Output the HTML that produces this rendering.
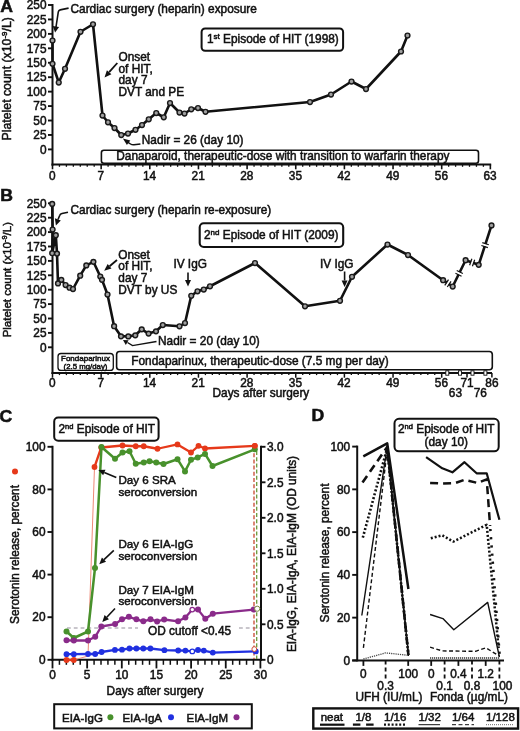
<!DOCTYPE html>
<html lang="en"><head><meta charset="utf-8"><title>HIT episodes figure</title>
<style>html,body{margin:0;padding:0;background:#fff;}svg{display:block;will-change:transform;}</style></head>
<body>
<svg width="520" height="731" viewBox="0 0 520 731" font-family="'Liberation Sans', sans-serif" fill="#111"><style>text{stroke:#111;stroke-width:0.5px;}</style>
<rect width="520" height="731" fill="#fff"/>
<line x1="52.50" y1="4.00" x2="52.50" y2="165.60" stroke="#111" stroke-width="2"/>
<line x1="48.00" y1="5.00" x2="52.50" y2="5.00" stroke="#111" stroke-width="1.9"/>
<text x="46.50" y="9.20" font-size="11.85" text-anchor="end">250</text>
<line x1="48.00" y1="19.44" x2="52.50" y2="19.44" stroke="#111" stroke-width="1.9"/>
<text x="46.50" y="23.64" font-size="11.85" text-anchor="end">225</text>
<line x1="48.00" y1="33.88" x2="52.50" y2="33.88" stroke="#111" stroke-width="1.9"/>
<text x="46.50" y="38.08" font-size="11.85" text-anchor="end">200</text>
<line x1="48.00" y1="48.32" x2="52.50" y2="48.32" stroke="#111" stroke-width="1.9"/>
<text x="46.50" y="52.52" font-size="11.85" text-anchor="end">175</text>
<line x1="48.00" y1="62.76" x2="52.50" y2="62.76" stroke="#111" stroke-width="1.9"/>
<text x="46.50" y="66.96" font-size="11.85" text-anchor="end">150</text>
<line x1="48.00" y1="77.20" x2="52.50" y2="77.20" stroke="#111" stroke-width="1.9"/>
<text x="46.50" y="81.40" font-size="11.85" text-anchor="end">125</text>
<line x1="48.00" y1="91.64" x2="52.50" y2="91.64" stroke="#111" stroke-width="1.9"/>
<text x="46.50" y="95.84" font-size="11.85" text-anchor="end">100</text>
<line x1="48.00" y1="106.08" x2="52.50" y2="106.08" stroke="#111" stroke-width="1.9"/>
<text x="46.50" y="110.28" font-size="11.85" text-anchor="end">75</text>
<line x1="48.00" y1="120.52" x2="52.50" y2="120.52" stroke="#111" stroke-width="1.9"/>
<text x="46.50" y="124.72" font-size="11.85" text-anchor="end">50</text>
<line x1="48.00" y1="134.96" x2="52.50" y2="134.96" stroke="#111" stroke-width="1.9"/>
<text x="46.50" y="139.16" font-size="11.85" text-anchor="end">25</text>
<line x1="48.00" y1="149.40" x2="52.50" y2="149.40" stroke="#111" stroke-width="1.9"/>
<text x="46.50" y="153.60" font-size="11.85" text-anchor="end">0</text>
<line x1="51.50" y1="164.60" x2="491.20" y2="164.60" stroke="#111" stroke-width="2"/>
<line x1="52.50" y1="164.60" x2="52.50" y2="169.30" stroke="#111" stroke-width="1.6"/>
<line x1="59.45" y1="164.60" x2="59.45" y2="166.80" stroke="#111" stroke-width="1.3"/>
<line x1="66.40" y1="164.60" x2="66.40" y2="166.80" stroke="#111" stroke-width="1.3"/>
<line x1="73.35" y1="164.60" x2="73.35" y2="166.80" stroke="#111" stroke-width="1.3"/>
<line x1="80.30" y1="164.60" x2="80.30" y2="166.80" stroke="#111" stroke-width="1.3"/>
<line x1="87.25" y1="164.60" x2="87.25" y2="166.80" stroke="#111" stroke-width="1.3"/>
<line x1="94.20" y1="164.60" x2="94.20" y2="166.80" stroke="#111" stroke-width="1.3"/>
<line x1="101.15" y1="164.60" x2="101.15" y2="169.30" stroke="#111" stroke-width="1.6"/>
<line x1="108.10" y1="164.60" x2="108.10" y2="166.80" stroke="#111" stroke-width="1.3"/>
<line x1="115.05" y1="164.60" x2="115.05" y2="166.80" stroke="#111" stroke-width="1.3"/>
<line x1="122.00" y1="164.60" x2="122.00" y2="166.80" stroke="#111" stroke-width="1.3"/>
<line x1="128.95" y1="164.60" x2="128.95" y2="166.80" stroke="#111" stroke-width="1.3"/>
<line x1="135.90" y1="164.60" x2="135.90" y2="166.80" stroke="#111" stroke-width="1.3"/>
<line x1="142.85" y1="164.60" x2="142.85" y2="166.80" stroke="#111" stroke-width="1.3"/>
<line x1="149.80" y1="164.60" x2="149.80" y2="169.30" stroke="#111" stroke-width="1.6"/>
<line x1="156.75" y1="164.60" x2="156.75" y2="166.80" stroke="#111" stroke-width="1.3"/>
<line x1="163.70" y1="164.60" x2="163.70" y2="166.80" stroke="#111" stroke-width="1.3"/>
<line x1="170.65" y1="164.60" x2="170.65" y2="166.80" stroke="#111" stroke-width="1.3"/>
<line x1="177.60" y1="164.60" x2="177.60" y2="166.80" stroke="#111" stroke-width="1.3"/>
<line x1="184.55" y1="164.60" x2="184.55" y2="166.80" stroke="#111" stroke-width="1.3"/>
<line x1="191.50" y1="164.60" x2="191.50" y2="166.80" stroke="#111" stroke-width="1.3"/>
<line x1="198.45" y1="164.60" x2="198.45" y2="169.30" stroke="#111" stroke-width="1.6"/>
<line x1="205.40" y1="164.60" x2="205.40" y2="166.80" stroke="#111" stroke-width="1.3"/>
<line x1="212.35" y1="164.60" x2="212.35" y2="166.80" stroke="#111" stroke-width="1.3"/>
<line x1="219.30" y1="164.60" x2="219.30" y2="166.80" stroke="#111" stroke-width="1.3"/>
<line x1="226.25" y1="164.60" x2="226.25" y2="166.80" stroke="#111" stroke-width="1.3"/>
<line x1="233.20" y1="164.60" x2="233.20" y2="166.80" stroke="#111" stroke-width="1.3"/>
<line x1="240.15" y1="164.60" x2="240.15" y2="166.80" stroke="#111" stroke-width="1.3"/>
<line x1="247.10" y1="164.60" x2="247.10" y2="169.30" stroke="#111" stroke-width="1.6"/>
<line x1="254.05" y1="164.60" x2="254.05" y2="166.80" stroke="#111" stroke-width="1.3"/>
<line x1="261.00" y1="164.60" x2="261.00" y2="166.80" stroke="#111" stroke-width="1.3"/>
<line x1="267.95" y1="164.60" x2="267.95" y2="166.80" stroke="#111" stroke-width="1.3"/>
<line x1="274.90" y1="164.60" x2="274.90" y2="166.80" stroke="#111" stroke-width="1.3"/>
<line x1="281.85" y1="164.60" x2="281.85" y2="166.80" stroke="#111" stroke-width="1.3"/>
<line x1="288.80" y1="164.60" x2="288.80" y2="166.80" stroke="#111" stroke-width="1.3"/>
<line x1="295.75" y1="164.60" x2="295.75" y2="169.30" stroke="#111" stroke-width="1.6"/>
<line x1="302.70" y1="164.60" x2="302.70" y2="166.80" stroke="#111" stroke-width="1.3"/>
<line x1="309.65" y1="164.60" x2="309.65" y2="166.80" stroke="#111" stroke-width="1.3"/>
<line x1="316.60" y1="164.60" x2="316.60" y2="166.80" stroke="#111" stroke-width="1.3"/>
<line x1="323.55" y1="164.60" x2="323.55" y2="166.80" stroke="#111" stroke-width="1.3"/>
<line x1="330.50" y1="164.60" x2="330.50" y2="166.80" stroke="#111" stroke-width="1.3"/>
<line x1="337.45" y1="164.60" x2="337.45" y2="166.80" stroke="#111" stroke-width="1.3"/>
<line x1="344.40" y1="164.60" x2="344.40" y2="169.30" stroke="#111" stroke-width="1.6"/>
<line x1="351.35" y1="164.60" x2="351.35" y2="166.80" stroke="#111" stroke-width="1.3"/>
<line x1="358.30" y1="164.60" x2="358.30" y2="166.80" stroke="#111" stroke-width="1.3"/>
<line x1="365.25" y1="164.60" x2="365.25" y2="166.80" stroke="#111" stroke-width="1.3"/>
<line x1="372.20" y1="164.60" x2="372.20" y2="166.80" stroke="#111" stroke-width="1.3"/>
<line x1="379.15" y1="164.60" x2="379.15" y2="166.80" stroke="#111" stroke-width="1.3"/>
<line x1="386.10" y1="164.60" x2="386.10" y2="166.80" stroke="#111" stroke-width="1.3"/>
<line x1="393.05" y1="164.60" x2="393.05" y2="169.30" stroke="#111" stroke-width="1.6"/>
<line x1="400.00" y1="164.60" x2="400.00" y2="166.80" stroke="#111" stroke-width="1.3"/>
<line x1="406.95" y1="164.60" x2="406.95" y2="166.80" stroke="#111" stroke-width="1.3"/>
<line x1="413.90" y1="164.60" x2="413.90" y2="166.80" stroke="#111" stroke-width="1.3"/>
<line x1="420.85" y1="164.60" x2="420.85" y2="166.80" stroke="#111" stroke-width="1.3"/>
<line x1="427.80" y1="164.60" x2="427.80" y2="166.80" stroke="#111" stroke-width="1.3"/>
<line x1="434.75" y1="164.60" x2="434.75" y2="166.80" stroke="#111" stroke-width="1.3"/>
<line x1="441.70" y1="164.60" x2="441.70" y2="169.30" stroke="#111" stroke-width="1.6"/>
<line x1="448.65" y1="164.60" x2="448.65" y2="166.80" stroke="#111" stroke-width="1.3"/>
<line x1="455.60" y1="164.60" x2="455.60" y2="166.80" stroke="#111" stroke-width="1.3"/>
<line x1="462.55" y1="164.60" x2="462.55" y2="166.80" stroke="#111" stroke-width="1.3"/>
<line x1="469.50" y1="164.60" x2="469.50" y2="166.80" stroke="#111" stroke-width="1.3"/>
<line x1="476.45" y1="164.60" x2="476.45" y2="166.80" stroke="#111" stroke-width="1.3"/>
<line x1="483.40" y1="164.60" x2="483.40" y2="166.80" stroke="#111" stroke-width="1.3"/>
<line x1="490.35" y1="164.60" x2="490.35" y2="169.30" stroke="#111" stroke-width="1.6"/>
<text x="52.20" y="179.80" font-size="11.85" text-anchor="middle">0</text>
<text x="100.85" y="179.80" font-size="11.85" text-anchor="middle">7</text>
<text x="149.50" y="179.80" font-size="11.85" text-anchor="middle">14</text>
<text x="198.15" y="179.80" font-size="11.85" text-anchor="middle">21</text>
<text x="246.80" y="179.80" font-size="11.85" text-anchor="middle">28</text>
<text x="295.45" y="179.80" font-size="11.85" text-anchor="middle">35</text>
<text x="344.10" y="179.80" font-size="11.85" text-anchor="middle">42</text>
<text x="392.75" y="179.80" font-size="11.85" text-anchor="middle">49</text>
<text x="441.40" y="179.80" font-size="11.85" text-anchor="middle">56</text>
<text x="490.05" y="179.80" font-size="11.85" text-anchor="middle">63</text>
<text transform="translate(0.3,12) scale(1.13,1)" font-size="15.6" font-weight="bold">A</text>
<text transform="translate(10.9,78.8) rotate(-90)" font-size="12.3" text-anchor="middle">Platelet count (x10<tspan font-size="8" dy="-4.3">-9</tspan><tspan dy="4.3">/L)</tspan></text>
<polyline points="52.50,40.50 52.50,63.75 58.75,82.50 65.00,68.75 80.50,31.75 93.00,24.25 102.50,115.50 108.00,122.25 114.50,128.00 121.25,135.00 128.00,133.50 135.50,129.75 142.00,125.00 148.75,119.25 156.25,113.00 163.75,117.25 170.00,103.00 179.50,112.50 184.50,113.50 191.25,109.25 198.00,108.00 205.50,111.75 310.00,102.00 331.00,94.50 351.50,81.50 366.00,89.00 401.00,51.50 407.50,35.50" fill="none" stroke="#111" stroke-width="2.6" stroke-linejoin="round"/>
<circle cx="52.50" cy="40.50" r="2.4" fill="#a0a0a0" stroke="#1a1a1a" stroke-width="1.45"/>
<circle cx="52.50" cy="63.75" r="2.4" fill="#a0a0a0" stroke="#1a1a1a" stroke-width="1.45"/>
<circle cx="58.75" cy="82.50" r="2.4" fill="#a0a0a0" stroke="#1a1a1a" stroke-width="1.45"/>
<circle cx="65.00" cy="68.75" r="2.4" fill="#a0a0a0" stroke="#1a1a1a" stroke-width="1.45"/>
<circle cx="80.50" cy="31.75" r="2.4" fill="#a0a0a0" stroke="#1a1a1a" stroke-width="1.45"/>
<circle cx="93.00" cy="24.25" r="2.4" fill="#a0a0a0" stroke="#1a1a1a" stroke-width="1.45"/>
<circle cx="102.50" cy="115.50" r="2.4" fill="#a0a0a0" stroke="#1a1a1a" stroke-width="1.45"/>
<circle cx="108.00" cy="122.25" r="2.4" fill="#a0a0a0" stroke="#1a1a1a" stroke-width="1.45"/>
<circle cx="114.50" cy="128.00" r="2.4" fill="#a0a0a0" stroke="#1a1a1a" stroke-width="1.45"/>
<circle cx="121.25" cy="135.00" r="2.4" fill="#a0a0a0" stroke="#1a1a1a" stroke-width="1.45"/>
<circle cx="128.00" cy="133.50" r="2.4" fill="#a0a0a0" stroke="#1a1a1a" stroke-width="1.45"/>
<circle cx="135.50" cy="129.75" r="2.4" fill="#a0a0a0" stroke="#1a1a1a" stroke-width="1.45"/>
<circle cx="142.00" cy="125.00" r="2.4" fill="#a0a0a0" stroke="#1a1a1a" stroke-width="1.45"/>
<circle cx="148.75" cy="119.25" r="2.4" fill="#a0a0a0" stroke="#1a1a1a" stroke-width="1.45"/>
<circle cx="156.25" cy="113.00" r="2.4" fill="#a0a0a0" stroke="#1a1a1a" stroke-width="1.45"/>
<circle cx="163.75" cy="117.25" r="2.4" fill="#a0a0a0" stroke="#1a1a1a" stroke-width="1.45"/>
<circle cx="170.00" cy="103.00" r="2.4" fill="#a0a0a0" stroke="#1a1a1a" stroke-width="1.45"/>
<circle cx="179.50" cy="112.50" r="2.4" fill="#a0a0a0" stroke="#1a1a1a" stroke-width="1.45"/>
<circle cx="184.50" cy="113.50" r="2.4" fill="#a0a0a0" stroke="#1a1a1a" stroke-width="1.45"/>
<circle cx="191.25" cy="109.25" r="2.4" fill="#a0a0a0" stroke="#1a1a1a" stroke-width="1.45"/>
<circle cx="198.00" cy="108.00" r="2.4" fill="#a0a0a0" stroke="#1a1a1a" stroke-width="1.45"/>
<circle cx="205.50" cy="111.75" r="2.4" fill="#a0a0a0" stroke="#1a1a1a" stroke-width="1.45"/>
<circle cx="310.00" cy="102.00" r="2.4" fill="#a0a0a0" stroke="#1a1a1a" stroke-width="1.45"/>
<circle cx="331.00" cy="94.50" r="2.4" fill="#a0a0a0" stroke="#1a1a1a" stroke-width="1.45"/>
<circle cx="351.50" cy="81.50" r="2.4" fill="#a0a0a0" stroke="#1a1a1a" stroke-width="1.45"/>
<circle cx="366.00" cy="89.00" r="2.4" fill="#a0a0a0" stroke="#1a1a1a" stroke-width="1.45"/>
<circle cx="401.00" cy="51.50" r="2.4" fill="#a0a0a0" stroke="#1a1a1a" stroke-width="1.45"/>
<circle cx="407.50" cy="35.50" r="2.4" fill="#a0a0a0" stroke="#1a1a1a" stroke-width="1.45"/>
<text x="70.50" y="12.50" font-size="11.85" text-anchor="start">Cardiac surgery (heparin) exposure</text>
<path d="M68.6,8.1 L60.2,9.9 Q58.6,10.3 58.3,11.8 L56,27" fill="none" stroke="#111" stroke-width="1.6"/>
<polygon points="55.1,32.6 52.7,26 59.1,26.9" fill="#111"/>
<text x="118.50" y="60.70" font-size="11.85" text-anchor="start">Onset</text>
<text x="118.50" y="72.50" font-size="11.85" text-anchor="start">of HIT,</text>
<text x="118.50" y="84.30" font-size="11.85" text-anchor="start">day 7</text>
<text x="118.50" y="96.10" font-size="11.85" text-anchor="start">DVT and PE</text>
<line x1="117.30" y1="63.00" x2="109.15" y2="72.17" stroke="#111" stroke-width="1.8"/>
<polygon points="104.50,77.40 106.91,70.18 111.39,74.16" fill="#111"/>
<text x="141.80" y="143.80" font-size="11.85" text-anchor="start">Nadir = 26 (day 10)</text>
<path d="M140.4,144 L134,144.8 Q132,145 130.5,144 L127.3,141.9" fill="none" stroke="#111" stroke-width="1.5"/>
<polygon points="122.9,138.6 130.3,140.6 126.9,145" fill="#111"/>
<rect x="201.60" y="28.50" width="141.50" height="22.30" rx="3.5" ry="3.5" fill="#fff" stroke="#111" stroke-width="2"/>
<text x="207" y="43.2" font-size="11.85">1<tspan font-size="8" dy="-4.3">st</tspan><tspan dy="4.3"> Episode of HIT (1998)</tspan></text>
<rect x="101.40" y="150.20" width="377.10" height="13.00" rx="2.5" ry="2.5" fill="#fff" stroke="#111" stroke-width="1.6"/>
<text x="116.30" y="160.00" font-size="11.85" text-anchor="start">Danaparoid, therapeutic-dose with transition to warfarin therapy</text>
<line x1="52.50" y1="202.30" x2="52.50" y2="374.00" stroke="#111" stroke-width="2"/>
<line x1="48.00" y1="203.30" x2="52.50" y2="203.30" stroke="#111" stroke-width="1.9"/>
<text x="46.50" y="207.50" font-size="11.85" text-anchor="end">250</text>
<line x1="48.00" y1="217.70" x2="52.50" y2="217.70" stroke="#111" stroke-width="1.9"/>
<text x="46.50" y="221.90" font-size="11.85" text-anchor="end">225</text>
<line x1="48.00" y1="232.10" x2="52.50" y2="232.10" stroke="#111" stroke-width="1.9"/>
<text x="46.50" y="236.30" font-size="11.85" text-anchor="end">200</text>
<line x1="48.00" y1="246.50" x2="52.50" y2="246.50" stroke="#111" stroke-width="1.9"/>
<text x="46.50" y="250.70" font-size="11.85" text-anchor="end">175</text>
<line x1="48.00" y1="260.90" x2="52.50" y2="260.90" stroke="#111" stroke-width="1.9"/>
<text x="46.50" y="265.10" font-size="11.85" text-anchor="end">150</text>
<line x1="48.00" y1="275.30" x2="52.50" y2="275.30" stroke="#111" stroke-width="1.9"/>
<text x="46.50" y="279.50" font-size="11.85" text-anchor="end">125</text>
<line x1="48.00" y1="289.70" x2="52.50" y2="289.70" stroke="#111" stroke-width="1.9"/>
<text x="46.50" y="293.90" font-size="11.85" text-anchor="end">100</text>
<line x1="48.00" y1="304.10" x2="52.50" y2="304.10" stroke="#111" stroke-width="1.9"/>
<text x="46.50" y="308.30" font-size="11.85" text-anchor="end">75</text>
<line x1="48.00" y1="318.50" x2="52.50" y2="318.50" stroke="#111" stroke-width="1.9"/>
<text x="46.50" y="322.70" font-size="11.85" text-anchor="end">50</text>
<line x1="48.00" y1="332.90" x2="52.50" y2="332.90" stroke="#111" stroke-width="1.9"/>
<text x="46.50" y="337.10" font-size="11.85" text-anchor="end">25</text>
<line x1="48.00" y1="347.30" x2="52.50" y2="347.30" stroke="#111" stroke-width="1.9"/>
<text x="46.50" y="351.50" font-size="11.85" text-anchor="end">0</text>
<line x1="51.50" y1="373.00" x2="492.00" y2="373.00" stroke="#111" stroke-width="2"/>
<line x1="52.50" y1="373.00" x2="52.50" y2="377.70" stroke="#111" stroke-width="1.5"/>
<line x1="59.45" y1="373.00" x2="59.45" y2="375.10" stroke="#111" stroke-width="1.3"/>
<line x1="66.40" y1="373.00" x2="66.40" y2="375.10" stroke="#111" stroke-width="1.3"/>
<line x1="73.35" y1="373.00" x2="73.35" y2="375.10" stroke="#111" stroke-width="1.3"/>
<line x1="80.30" y1="373.00" x2="80.30" y2="375.10" stroke="#111" stroke-width="1.3"/>
<line x1="87.25" y1="373.00" x2="87.25" y2="375.10" stroke="#111" stroke-width="1.3"/>
<line x1="94.20" y1="373.00" x2="94.20" y2="375.10" stroke="#111" stroke-width="1.3"/>
<line x1="101.15" y1="373.00" x2="101.15" y2="377.70" stroke="#111" stroke-width="1.5"/>
<line x1="108.10" y1="373.00" x2="108.10" y2="375.10" stroke="#111" stroke-width="1.3"/>
<line x1="115.05" y1="373.00" x2="115.05" y2="375.10" stroke="#111" stroke-width="1.3"/>
<line x1="122.00" y1="373.00" x2="122.00" y2="375.10" stroke="#111" stroke-width="1.3"/>
<line x1="128.95" y1="373.00" x2="128.95" y2="375.10" stroke="#111" stroke-width="1.3"/>
<line x1="135.90" y1="373.00" x2="135.90" y2="375.10" stroke="#111" stroke-width="1.3"/>
<line x1="142.85" y1="373.00" x2="142.85" y2="375.10" stroke="#111" stroke-width="1.3"/>
<line x1="149.80" y1="373.00" x2="149.80" y2="377.70" stroke="#111" stroke-width="1.5"/>
<line x1="156.75" y1="373.00" x2="156.75" y2="375.10" stroke="#111" stroke-width="1.3"/>
<line x1="163.70" y1="373.00" x2="163.70" y2="375.10" stroke="#111" stroke-width="1.3"/>
<line x1="170.65" y1="373.00" x2="170.65" y2="375.10" stroke="#111" stroke-width="1.3"/>
<line x1="177.60" y1="373.00" x2="177.60" y2="375.10" stroke="#111" stroke-width="1.3"/>
<line x1="184.55" y1="373.00" x2="184.55" y2="375.10" stroke="#111" stroke-width="1.3"/>
<line x1="191.50" y1="373.00" x2="191.50" y2="375.10" stroke="#111" stroke-width="1.3"/>
<line x1="198.45" y1="373.00" x2="198.45" y2="377.70" stroke="#111" stroke-width="1.5"/>
<line x1="205.40" y1="373.00" x2="205.40" y2="375.10" stroke="#111" stroke-width="1.3"/>
<line x1="212.35" y1="373.00" x2="212.35" y2="375.10" stroke="#111" stroke-width="1.3"/>
<line x1="219.30" y1="373.00" x2="219.30" y2="375.10" stroke="#111" stroke-width="1.3"/>
<line x1="226.25" y1="373.00" x2="226.25" y2="375.10" stroke="#111" stroke-width="1.3"/>
<line x1="233.20" y1="373.00" x2="233.20" y2="375.10" stroke="#111" stroke-width="1.3"/>
<line x1="240.15" y1="373.00" x2="240.15" y2="375.10" stroke="#111" stroke-width="1.3"/>
<line x1="247.10" y1="373.00" x2="247.10" y2="377.70" stroke="#111" stroke-width="1.5"/>
<line x1="254.05" y1="373.00" x2="254.05" y2="375.10" stroke="#111" stroke-width="1.3"/>
<line x1="261.00" y1="373.00" x2="261.00" y2="375.10" stroke="#111" stroke-width="1.3"/>
<line x1="267.95" y1="373.00" x2="267.95" y2="375.10" stroke="#111" stroke-width="1.3"/>
<line x1="274.90" y1="373.00" x2="274.90" y2="375.10" stroke="#111" stroke-width="1.3"/>
<line x1="281.85" y1="373.00" x2="281.85" y2="375.10" stroke="#111" stroke-width="1.3"/>
<line x1="288.80" y1="373.00" x2="288.80" y2="375.10" stroke="#111" stroke-width="1.3"/>
<line x1="295.75" y1="373.00" x2="295.75" y2="377.70" stroke="#111" stroke-width="1.5"/>
<line x1="302.70" y1="373.00" x2="302.70" y2="375.10" stroke="#111" stroke-width="1.3"/>
<line x1="309.65" y1="373.00" x2="309.65" y2="375.10" stroke="#111" stroke-width="1.3"/>
<line x1="316.60" y1="373.00" x2="316.60" y2="375.10" stroke="#111" stroke-width="1.3"/>
<line x1="323.55" y1="373.00" x2="323.55" y2="375.10" stroke="#111" stroke-width="1.3"/>
<line x1="330.50" y1="373.00" x2="330.50" y2="375.10" stroke="#111" stroke-width="1.3"/>
<line x1="337.45" y1="373.00" x2="337.45" y2="375.10" stroke="#111" stroke-width="1.3"/>
<line x1="344.40" y1="373.00" x2="344.40" y2="377.70" stroke="#111" stroke-width="1.5"/>
<line x1="351.35" y1="373.00" x2="351.35" y2="375.10" stroke="#111" stroke-width="1.3"/>
<line x1="358.30" y1="373.00" x2="358.30" y2="375.10" stroke="#111" stroke-width="1.3"/>
<line x1="365.25" y1="373.00" x2="365.25" y2="375.10" stroke="#111" stroke-width="1.3"/>
<line x1="372.20" y1="373.00" x2="372.20" y2="375.10" stroke="#111" stroke-width="1.3"/>
<line x1="379.15" y1="373.00" x2="379.15" y2="375.10" stroke="#111" stroke-width="1.3"/>
<line x1="386.10" y1="373.00" x2="386.10" y2="375.10" stroke="#111" stroke-width="1.3"/>
<line x1="393.05" y1="373.00" x2="393.05" y2="377.70" stroke="#111" stroke-width="1.5"/>
<line x1="400.00" y1="373.00" x2="400.00" y2="375.10" stroke="#111" stroke-width="1.3"/>
<line x1="406.95" y1="373.00" x2="406.95" y2="375.10" stroke="#111" stroke-width="1.3"/>
<line x1="413.90" y1="373.00" x2="413.90" y2="375.10" stroke="#111" stroke-width="1.3"/>
<line x1="420.85" y1="373.00" x2="420.85" y2="375.10" stroke="#111" stroke-width="1.3"/>
<line x1="427.80" y1="373.00" x2="427.80" y2="375.10" stroke="#111" stroke-width="1.3"/>
<line x1="434.75" y1="373.00" x2="434.75" y2="375.10" stroke="#111" stroke-width="1.3"/>
<line x1="441.70" y1="373.00" x2="441.70" y2="377.70" stroke="#111" stroke-width="1.5"/>
<text x="52.20" y="386.60" font-size="11.85" text-anchor="middle">0</text>
<text x="100.85" y="386.60" font-size="11.85" text-anchor="middle">7</text>
<text x="149.50" y="386.60" font-size="11.85" text-anchor="middle">14</text>
<text x="198.15" y="386.60" font-size="11.85" text-anchor="middle">21</text>
<text x="246.80" y="386.60" font-size="11.85" text-anchor="middle">28</text>
<text x="295.45" y="386.60" font-size="11.85" text-anchor="middle">35</text>
<text x="344.10" y="386.60" font-size="11.85" text-anchor="middle">42</text>
<text x="392.75" y="386.60" font-size="11.85" text-anchor="middle">49</text>
<text x="441.40" y="386.60" font-size="11.85" text-anchor="middle">56</text>
<rect x="445.80" y="370.8" width="3" height="4.4" fill="#fff" stroke="#111" stroke-width="0.9"/>
<rect x="458.50" y="370.8" width="3" height="4.4" fill="#fff" stroke="#111" stroke-width="0.9"/>
<rect x="471.00" y="370.8" width="3" height="4.4" fill="#fff" stroke="#111" stroke-width="0.9"/>
<rect x="483.90" y="370.8" width="3" height="4.4" fill="#fff" stroke="#111" stroke-width="0.9"/>
<line x1="467.00" y1="373.00" x2="467.00" y2="377.50" stroke="#111" stroke-width="1.5"/>
<line x1="491.90" y1="373.00" x2="491.90" y2="377.50" stroke="#111" stroke-width="1.5"/>
<text x="467.00" y="386.60" font-size="11.85" text-anchor="middle">71</text>
<text x="491.90" y="386.60" font-size="11.85" text-anchor="middle">86</text>
<text x="455.40" y="396.60" font-size="11.85" text-anchor="middle">63</text>
<text x="480.30" y="396.60" font-size="11.85" text-anchor="middle">76</text>
<text transform="translate(0.3,200.8) scale(1.13,1)" font-size="15.6" font-weight="bold">B</text>
<text transform="translate(10.9,279.7) rotate(-90)" font-size="11.5" text-anchor="middle">Platelet count (x10<tspan font-size="7.5" dy="-4">-9</tspan><tspan dy="4">/L)</tspan></text>
<polyline points="52.20,203.90 52.60,229.50 52.20,253.20 55.80,235.20 57.00,253.60 58.00,283.40 61.30,279.80 65.60,285.00 69.50,287.70 73.00,289.00 80.20,275.70 86.30,265.40 93.40,261.80 100.30,276.50 102.00,279.80 107.50,294.50 114.10,326.20 121.00,336.30 128.30,336.40 135.30,335.30 141.70,329.30 148.60,333.60 156.00,331.30 162.80,325.00 179.50,326.25 185.00,323.00 191.25,295.75 197.50,291.25 203.75,289.50 210.00,286.25 255.00,263.00 305.00,306.25 340.00,300.75 352.00,276.75 387.50,244.50 408.00,255.00 443.10,280.20 452.70,286.50 465.60,260.20 478.70,264.80 491.50,225.40" fill="none" stroke="#111" stroke-width="2.6" stroke-linejoin="round"/>
<g transform="translate(447.90,283.35) rotate(33.3)"><rect x="-1.2" y="-3.4" width="2.4" height="6.8" fill="#fff"/><line x1="-1.5" y1="-3.4" x2="-1.5" y2="3.4" stroke="#111" stroke-width="1.2"/><line x1="1.5" y1="-3.4" x2="1.5" y2="3.4" stroke="#111" stroke-width="1.2"/></g>
<g transform="translate(459.15,273.35) rotate(-63.9)"><rect x="-1.2" y="-3.4" width="2.4" height="6.8" fill="#fff"/><line x1="-1.5" y1="-3.4" x2="-1.5" y2="3.4" stroke="#111" stroke-width="1.2"/><line x1="1.5" y1="-3.4" x2="1.5" y2="3.4" stroke="#111" stroke-width="1.2"/></g>
<g transform="translate(472.15,262.50) rotate(19.3)"><rect x="-1.2" y="-3.4" width="2.4" height="6.8" fill="#fff"/><line x1="-1.5" y1="-3.4" x2="-1.5" y2="3.4" stroke="#111" stroke-width="1.2"/><line x1="1.5" y1="-3.4" x2="1.5" y2="3.4" stroke="#111" stroke-width="1.2"/></g>
<g transform="translate(485.10,245.10) rotate(-72.0)"><rect x="-1.2" y="-3.4" width="2.4" height="6.8" fill="#fff"/><line x1="-1.5" y1="-3.4" x2="-1.5" y2="3.4" stroke="#111" stroke-width="1.2"/><line x1="1.5" y1="-3.4" x2="1.5" y2="3.4" stroke="#111" stroke-width="1.2"/></g>
<circle cx="52.20" cy="203.90" r="2.4" fill="#a0a0a0" stroke="#1a1a1a" stroke-width="1.45"/>
<circle cx="52.60" cy="229.50" r="2.4" fill="#a0a0a0" stroke="#1a1a1a" stroke-width="1.45"/>
<circle cx="52.20" cy="253.20" r="2.4" fill="#a0a0a0" stroke="#1a1a1a" stroke-width="1.45"/>
<circle cx="55.80" cy="235.20" r="2.4" fill="#a0a0a0" stroke="#1a1a1a" stroke-width="1.45"/>
<circle cx="57.00" cy="253.60" r="2.4" fill="#a0a0a0" stroke="#1a1a1a" stroke-width="1.45"/>
<circle cx="58.00" cy="283.40" r="2.4" fill="#a0a0a0" stroke="#1a1a1a" stroke-width="1.45"/>
<circle cx="61.30" cy="279.80" r="2.4" fill="#a0a0a0" stroke="#1a1a1a" stroke-width="1.45"/>
<circle cx="65.60" cy="285.00" r="2.4" fill="#a0a0a0" stroke="#1a1a1a" stroke-width="1.45"/>
<circle cx="69.50" cy="287.70" r="2.4" fill="#a0a0a0" stroke="#1a1a1a" stroke-width="1.45"/>
<circle cx="73.00" cy="289.00" r="2.4" fill="#a0a0a0" stroke="#1a1a1a" stroke-width="1.45"/>
<circle cx="80.20" cy="275.70" r="2.4" fill="#a0a0a0" stroke="#1a1a1a" stroke-width="1.45"/>
<circle cx="86.30" cy="265.40" r="2.4" fill="#a0a0a0" stroke="#1a1a1a" stroke-width="1.45"/>
<circle cx="93.40" cy="261.80" r="2.4" fill="#a0a0a0" stroke="#1a1a1a" stroke-width="1.45"/>
<circle cx="100.30" cy="276.50" r="2.4" fill="#a0a0a0" stroke="#1a1a1a" stroke-width="1.45"/>
<circle cx="102.00" cy="279.80" r="2.4" fill="#a0a0a0" stroke="#1a1a1a" stroke-width="1.45"/>
<circle cx="107.50" cy="294.50" r="2.4" fill="#a0a0a0" stroke="#1a1a1a" stroke-width="1.45"/>
<circle cx="114.10" cy="326.20" r="2.4" fill="#a0a0a0" stroke="#1a1a1a" stroke-width="1.45"/>
<circle cx="121.00" cy="336.30" r="2.4" fill="#a0a0a0" stroke="#1a1a1a" stroke-width="1.45"/>
<circle cx="128.30" cy="336.40" r="2.4" fill="#a0a0a0" stroke="#1a1a1a" stroke-width="1.45"/>
<circle cx="135.30" cy="335.30" r="2.4" fill="#a0a0a0" stroke="#1a1a1a" stroke-width="1.45"/>
<circle cx="141.70" cy="329.30" r="2.4" fill="#a0a0a0" stroke="#1a1a1a" stroke-width="1.45"/>
<circle cx="148.60" cy="333.60" r="2.4" fill="#a0a0a0" stroke="#1a1a1a" stroke-width="1.45"/>
<circle cx="156.00" cy="331.30" r="2.4" fill="#a0a0a0" stroke="#1a1a1a" stroke-width="1.45"/>
<circle cx="162.80" cy="325.00" r="2.4" fill="#a0a0a0" stroke="#1a1a1a" stroke-width="1.45"/>
<circle cx="179.50" cy="326.25" r="2.4" fill="#a0a0a0" stroke="#1a1a1a" stroke-width="1.45"/>
<circle cx="185.00" cy="323.00" r="2.4" fill="#a0a0a0" stroke="#1a1a1a" stroke-width="1.45"/>
<circle cx="191.25" cy="295.75" r="2.4" fill="#a0a0a0" stroke="#1a1a1a" stroke-width="1.45"/>
<circle cx="197.50" cy="291.25" r="2.4" fill="#a0a0a0" stroke="#1a1a1a" stroke-width="1.45"/>
<circle cx="203.75" cy="289.50" r="2.4" fill="#a0a0a0" stroke="#1a1a1a" stroke-width="1.45"/>
<circle cx="210.00" cy="286.25" r="2.4" fill="#a0a0a0" stroke="#1a1a1a" stroke-width="1.45"/>
<circle cx="255.00" cy="263.00" r="2.4" fill="#a0a0a0" stroke="#1a1a1a" stroke-width="1.45"/>
<circle cx="305.00" cy="306.25" r="2.4" fill="#a0a0a0" stroke="#1a1a1a" stroke-width="1.45"/>
<circle cx="340.00" cy="300.75" r="2.4" fill="#a0a0a0" stroke="#1a1a1a" stroke-width="1.45"/>
<circle cx="352.00" cy="276.75" r="2.4" fill="#a0a0a0" stroke="#1a1a1a" stroke-width="1.45"/>
<circle cx="387.50" cy="244.50" r="2.4" fill="#a0a0a0" stroke="#1a1a1a" stroke-width="1.45"/>
<circle cx="408.00" cy="255.00" r="2.4" fill="#a0a0a0" stroke="#1a1a1a" stroke-width="1.45"/>
<circle cx="443.10" cy="280.20" r="2.4" fill="#a0a0a0" stroke="#1a1a1a" stroke-width="1.45"/>
<circle cx="452.70" cy="286.50" r="2.4" fill="#a0a0a0" stroke="#1a1a1a" stroke-width="1.45"/>
<circle cx="465.60" cy="260.20" r="2.4" fill="#a0a0a0" stroke="#1a1a1a" stroke-width="1.45"/>
<circle cx="478.70" cy="264.80" r="2.4" fill="#a0a0a0" stroke="#1a1a1a" stroke-width="1.45"/>
<circle cx="491.50" cy="225.40" r="2.4" fill="#a0a0a0" stroke="#1a1a1a" stroke-width="1.45"/>
<text x="70.50" y="213.80" font-size="11.85" text-anchor="start">Cardiac surgery (heparin re-exposure)</text>
<path d="M68,212.2 L62,213.5 Q60.3,213.9 59.8,215.3 L58,219.5" fill="none" stroke="#111" stroke-width="1.6"/>
<polygon points="55.9,225.6 54.9,218.3 60.8,220.4" fill="#111"/>
<text x="118.30" y="258.50" font-size="11.85" text-anchor="start">Onset</text>
<text x="118.30" y="270.30" font-size="11.85" text-anchor="start">of HIT,</text>
<text x="118.30" y="282.10" font-size="11.85" text-anchor="start">day 7</text>
<text x="118.30" y="293.90" font-size="11.85" text-anchor="start">DVT by US</text>
<line x1="117.00" y1="260.00" x2="109.55" y2="266.29" stroke="#111" stroke-width="1.8"/>
<polygon points="104.20,270.80 107.62,263.99 111.48,268.58" fill="#111"/>
<text x="158.00" y="344.60" font-size="11.85" text-anchor="start">Nadir = 20 (day 10)</text>
<path d="M156.5,341.5 L132.5,345.6 L127.5,342.5" fill="none" stroke="#111" stroke-width="1.4"/>
<polygon points="123,340 128.6,340.2 125.8,345" fill="#111"/>
<text x="173.40" y="268.20" font-size="11.85" text-anchor="start">IV IgG</text>
<line x1="188.00" y1="272.50" x2="188.00" y2="280.10" stroke="#111" stroke-width="1.6"/>
<polygon points="188.00,286.60 185.00,280.10 191.00,280.10" fill="#111"/>
<text x="320.00" y="267.60" font-size="11.85" text-anchor="start">IV IgG</text>
<line x1="344.60" y1="271.50" x2="344.60" y2="280.50" stroke="#111" stroke-width="1.6"/>
<polygon points="344.60,287.00 341.60,280.50 347.60,280.50" fill="#111"/>
<rect x="199.70" y="223.30" width="143.50" height="23.70" rx="4" ry="4" fill="#fff" stroke="#111" stroke-width="2.1"/>
<text x="204" y="238.8" font-size="11.85">2<tspan font-size="8" dy="-4.3">nd</tspan><tspan dy="4.3"> Episode of HIT (2009)</tspan></text>
<rect x="58.00" y="353.50" width="55.30" height="16.90" rx="3" ry="3" fill="#fff" stroke="#111" stroke-width="1.3"/>
<text x="85.50" y="361.30" font-size="8" text-anchor="middle">Fondaparinux</text>
<text x="85.50" y="368.80" font-size="7.8" text-anchor="middle">(2.5 mg/day)</text>
<rect x="116.60" y="351.50" width="375.70" height="18.30" rx="3" ry="3" fill="#fff" stroke="#111" stroke-width="1.6"/>
<text x="131.30" y="364.60" font-size="11.85" text-anchor="start">Fondaparinux, therapeutic-dose (7.5 mg per day)</text>
<text x="212.50" y="397.40" font-size="11.85" text-anchor="start">Days after surgery</text>
<line x1="52.50" y1="445.80" x2="52.50" y2="660.80" stroke="#111" stroke-width="2"/>
<line x1="51.50" y1="659.80" x2="262.00" y2="659.80" stroke="#111" stroke-width="2"/>
<line x1="261.00" y1="445.80" x2="261.00" y2="660.80" stroke="#111" stroke-width="2"/>
<line x1="47.50" y1="659.80" x2="52.50" y2="659.80" stroke="#111" stroke-width="1.9"/>
<text x="45.50" y="664.00" font-size="11.85" text-anchor="end">0</text>
<line x1="47.50" y1="617.20" x2="52.50" y2="617.20" stroke="#111" stroke-width="1.9"/>
<text x="45.50" y="621.40" font-size="11.85" text-anchor="end">20</text>
<line x1="47.50" y1="574.60" x2="52.50" y2="574.60" stroke="#111" stroke-width="1.9"/>
<text x="45.50" y="578.80" font-size="11.85" text-anchor="end">40</text>
<line x1="47.50" y1="532.00" x2="52.50" y2="532.00" stroke="#111" stroke-width="1.9"/>
<text x="45.50" y="536.20" font-size="11.85" text-anchor="end">60</text>
<line x1="47.50" y1="489.40" x2="52.50" y2="489.40" stroke="#111" stroke-width="1.9"/>
<text x="45.50" y="493.60" font-size="11.85" text-anchor="end">80</text>
<line x1="47.50" y1="446.80" x2="52.50" y2="446.80" stroke="#111" stroke-width="1.9"/>
<text x="45.50" y="451.00" font-size="11.85" text-anchor="end">100</text>
<line x1="261.00" y1="659.80" x2="265.50" y2="659.80" stroke="#111" stroke-width="1.9"/>
<text x="267.00" y="664.00" font-size="11.85" text-anchor="start">0</text>
<line x1="261.00" y1="624.30" x2="265.50" y2="624.30" stroke="#111" stroke-width="1.9"/>
<text x="267.00" y="628.50" font-size="11.85" text-anchor="start">0.5</text>
<line x1="261.00" y1="588.80" x2="265.50" y2="588.80" stroke="#111" stroke-width="1.9"/>
<text x="267.00" y="593.00" font-size="11.85" text-anchor="start">1.0</text>
<line x1="261.00" y1="553.30" x2="265.50" y2="553.30" stroke="#111" stroke-width="1.9"/>
<text x="267.00" y="557.50" font-size="11.85" text-anchor="start">1.5</text>
<line x1="261.00" y1="517.80" x2="265.50" y2="517.80" stroke="#111" stroke-width="1.9"/>
<text x="267.00" y="522.00" font-size="11.85" text-anchor="start">2.0</text>
<line x1="261.00" y1="482.30" x2="265.50" y2="482.30" stroke="#111" stroke-width="1.9"/>
<text x="267.00" y="486.50" font-size="11.85" text-anchor="start">2.5</text>
<line x1="261.00" y1="446.80" x2="265.50" y2="446.80" stroke="#111" stroke-width="1.9"/>
<text x="267.00" y="451.00" font-size="11.85" text-anchor="start">3.0</text>
<line x1="52.50" y1="659.80" x2="52.50" y2="668.40" stroke="#111" stroke-width="1.8"/>
<line x1="59.43" y1="659.80" x2="59.43" y2="664.80" stroke="#111" stroke-width="1.5"/>
<line x1="66.36" y1="659.80" x2="66.36" y2="664.80" stroke="#111" stroke-width="1.5"/>
<line x1="73.29" y1="659.80" x2="73.29" y2="664.80" stroke="#111" stroke-width="1.5"/>
<line x1="80.22" y1="659.80" x2="80.22" y2="664.80" stroke="#111" stroke-width="1.5"/>
<line x1="87.15" y1="659.80" x2="87.15" y2="668.40" stroke="#111" stroke-width="1.8"/>
<line x1="94.08" y1="659.80" x2="94.08" y2="664.80" stroke="#111" stroke-width="1.5"/>
<line x1="101.01" y1="659.80" x2="101.01" y2="664.80" stroke="#111" stroke-width="1.5"/>
<line x1="107.94" y1="659.80" x2="107.94" y2="664.80" stroke="#111" stroke-width="1.5"/>
<line x1="114.87" y1="659.80" x2="114.87" y2="664.80" stroke="#111" stroke-width="1.5"/>
<line x1="121.80" y1="659.80" x2="121.80" y2="668.40" stroke="#111" stroke-width="1.8"/>
<line x1="128.73" y1="659.80" x2="128.73" y2="664.80" stroke="#111" stroke-width="1.5"/>
<line x1="135.66" y1="659.80" x2="135.66" y2="664.80" stroke="#111" stroke-width="1.5"/>
<line x1="142.59" y1="659.80" x2="142.59" y2="664.80" stroke="#111" stroke-width="1.5"/>
<line x1="149.52" y1="659.80" x2="149.52" y2="664.80" stroke="#111" stroke-width="1.5"/>
<line x1="156.45" y1="659.80" x2="156.45" y2="668.40" stroke="#111" stroke-width="1.8"/>
<line x1="163.38" y1="659.80" x2="163.38" y2="664.80" stroke="#111" stroke-width="1.5"/>
<line x1="170.31" y1="659.80" x2="170.31" y2="664.80" stroke="#111" stroke-width="1.5"/>
<line x1="177.24" y1="659.80" x2="177.24" y2="664.80" stroke="#111" stroke-width="1.5"/>
<line x1="184.17" y1="659.80" x2="184.17" y2="664.80" stroke="#111" stroke-width="1.5"/>
<line x1="191.10" y1="659.80" x2="191.10" y2="668.40" stroke="#111" stroke-width="1.8"/>
<line x1="198.03" y1="659.80" x2="198.03" y2="664.80" stroke="#111" stroke-width="1.5"/>
<line x1="204.96" y1="659.80" x2="204.96" y2="664.80" stroke="#111" stroke-width="1.5"/>
<line x1="211.89" y1="659.80" x2="211.89" y2="664.80" stroke="#111" stroke-width="1.5"/>
<line x1="218.82" y1="659.80" x2="218.82" y2="664.80" stroke="#111" stroke-width="1.5"/>
<line x1="225.75" y1="659.80" x2="225.75" y2="668.40" stroke="#111" stroke-width="1.8"/>
<line x1="232.68" y1="659.80" x2="232.68" y2="664.80" stroke="#111" stroke-width="1.5"/>
<line x1="239.61" y1="659.80" x2="239.61" y2="664.80" stroke="#111" stroke-width="1.5"/>
<line x1="246.54" y1="659.80" x2="246.54" y2="664.80" stroke="#111" stroke-width="1.5"/>
<line x1="253.47" y1="659.80" x2="253.47" y2="664.80" stroke="#111" stroke-width="1.5"/>
<line x1="260.40" y1="659.80" x2="260.40" y2="668.40" stroke="#111" stroke-width="1.8"/>
<text x="52.50" y="679.30" font-size="11.85" text-anchor="middle">0</text>
<text x="87.15" y="679.30" font-size="11.85" text-anchor="middle">5</text>
<text x="121.80" y="679.30" font-size="11.85" text-anchor="middle">10</text>
<text x="156.45" y="679.30" font-size="11.85" text-anchor="middle">15</text>
<text x="191.10" y="679.30" font-size="11.85" text-anchor="middle">20</text>
<text x="225.75" y="679.30" font-size="11.85" text-anchor="middle">25</text>
<text x="260.40" y="679.30" font-size="11.85" text-anchor="middle">30</text>
<text x="155.00" y="695.00" font-size="11.85" text-anchor="middle">Days after surgery</text>
<text transform="translate(-0.5,421.8) scale(1.13,1)" font-size="15.6" font-weight="bold">C</text>
<circle cx="15.00" cy="471.40" r="3" fill="#e6391a"/>
<text transform="translate(19,554.5) rotate(-90)" font-size="11.85" text-anchor="middle">Serotonin release, percent</text>
<text transform="translate(295.6,554) rotate(-90)" font-size="11.85" text-anchor="middle">EIA-IgG, EIA-IgA, EIA-IgM (OD units)</text>
<line x1="67" y1="628" x2="138" y2="628" stroke="#948e9a" stroke-width="1.1" stroke-dasharray="3.8,3"/>
<line x1="239" y1="628" x2="260" y2="628" stroke="#948e9a" stroke-width="1.1" stroke-dasharray="3.8,3"/>
<polyline points="73.80,660.00 88.00,656.00 94.50,467.00" fill="none" stroke="#ee8877" stroke-width="1" stroke-linejoin="round"/>
<line x1="254.00" y1="447.00" x2="254.00" y2="659.00" stroke="#c8452f" stroke-width="1.3" stroke-dasharray="4,2.2"/>
<line x1="256.70" y1="451.00" x2="256.70" y2="659.00" stroke="#6a9a3a" stroke-width="1.3" stroke-dasharray="4,2.2"/>
<polyline points="66.50,660.00 73.80,660.00" fill="none" stroke="#e6391a" stroke-width="2.3" stroke-linejoin="round"/>
<polyline points="94.50,467.00 101.25,447.50 122.50,445.50 135.75,446.25 143.75,446.25 157.50,448.75 177.50,444.40 191.00,452.50 198.50,445.80 205.00,448.50 254.80,445.80" fill="none" stroke="#e6391a" stroke-width="2.3" stroke-linejoin="round"/>
<circle cx="66.50" cy="660.00" r="2.9" fill="#e6391a"/>
<circle cx="73.80" cy="660.00" r="2.9" fill="#e6391a"/>
<circle cx="94.50" cy="467.00" r="2.9" fill="#e6391a"/>
<circle cx="101.25" cy="447.50" r="2.9" fill="#e6391a"/>
<circle cx="122.50" cy="445.50" r="2.9" fill="#e6391a"/>
<circle cx="135.75" cy="446.25" r="2.9" fill="#e6391a"/>
<circle cx="143.75" cy="446.25" r="2.9" fill="#e6391a"/>
<circle cx="157.50" cy="448.75" r="2.9" fill="#e6391a"/>
<circle cx="177.50" cy="444.40" r="2.9" fill="#e6391a"/>
<circle cx="191.00" cy="452.50" r="2.9" fill="#e6391a"/>
<circle cx="198.50" cy="445.80" r="2.9" fill="#e6391a"/>
<circle cx="205.00" cy="448.50" r="2.9" fill="#e6391a"/>
<circle cx="254.80" cy="445.80" r="2.9" fill="#e6391a"/>
<polyline points="66.50,631.50 73.80,638.00 88.00,631.50 95.00,568.00 101.50,447.00 115.00,458.75 122.50,452.50 129.50,451.25 135.75,463.75 143.75,462.50 149.50,461.25 156.25,462.50 163.50,464.00 177.50,459.20 185.00,471.40 191.00,459.80 197.70,457.40 205.00,453.90 212.50,466.00 254.80,449.30" fill="none" stroke="#48912c" stroke-width="2.5" stroke-linejoin="round"/>
<circle cx="66.50" cy="631.50" r="3" fill="#48912c"/>
<circle cx="73.80" cy="638.00" r="3" fill="#48912c"/>
<circle cx="88.00" cy="631.50" r="3" fill="#48912c"/>
<circle cx="95.00" cy="568.00" r="3" fill="#48912c"/>
<circle cx="101.50" cy="447.00" r="3" fill="#48912c"/>
<circle cx="115.00" cy="458.75" r="3" fill="#48912c"/>
<circle cx="122.50" cy="452.50" r="3" fill="#48912c"/>
<circle cx="129.50" cy="451.25" r="3" fill="#48912c"/>
<circle cx="135.75" cy="463.75" r="3" fill="#48912c"/>
<circle cx="143.75" cy="462.50" r="3" fill="#48912c"/>
<circle cx="149.50" cy="461.25" r="3" fill="#48912c"/>
<circle cx="156.25" cy="462.50" r="3" fill="#48912c"/>
<circle cx="163.50" cy="464.00" r="3" fill="#48912c"/>
<circle cx="177.50" cy="459.20" r="3" fill="#48912c"/>
<circle cx="185.00" cy="471.40" r="3" fill="#48912c"/>
<circle cx="191.00" cy="459.80" r="3" fill="#48912c"/>
<circle cx="197.70" cy="457.40" r="3" fill="#48912c"/>
<circle cx="205.00" cy="453.90" r="3" fill="#48912c"/>
<circle cx="212.50" cy="466.00" r="3" fill="#48912c"/>
<circle cx="254.80" cy="449.30" r="3" fill="#48912c"/>
<polyline points="66.50,640.30 73.80,640.50 88.00,640.50 95.20,636.80 101.30,626.50 115.10,624.10 122.00,619.30 128.90,616.80 136.40,619.30 143.30,621.30 150.50,619.30 157.10,621.40 164.20,619.50 178.10,621.30 185.40,617.40 192.30,609.60 198.00,609.60 205.30,618.80 212.80,613.70 253.70,609.60" fill="none" stroke="#8a2b8a" stroke-width="2.3" stroke-linejoin="round"/>
<circle cx="66.50" cy="640.30" r="3" fill="#8a2b8a"/>
<circle cx="73.80" cy="640.50" r="3" fill="#8a2b8a"/>
<circle cx="88.00" cy="640.50" r="3" fill="#8a2b8a"/>
<circle cx="95.20" cy="636.80" r="3" fill="#8a2b8a"/>
<circle cx="101.30" cy="626.50" r="3" fill="#8a2b8a"/>
<circle cx="115.10" cy="624.10" r="3" fill="#8a2b8a"/>
<circle cx="122.00" cy="619.30" r="3" fill="#8a2b8a"/>
<circle cx="128.90" cy="616.80" r="3" fill="#8a2b8a"/>
<circle cx="136.40" cy="619.30" r="3" fill="#8a2b8a"/>
<circle cx="143.30" cy="621.30" r="3" fill="#8a2b8a"/>
<circle cx="150.50" cy="619.30" r="3" fill="#8a2b8a"/>
<circle cx="157.10" cy="621.40" r="3" fill="#8a2b8a"/>
<circle cx="164.20" cy="619.50" r="3" fill="#8a2b8a"/>
<circle cx="178.10" cy="621.30" r="3" fill="#8a2b8a"/>
<circle cx="185.40" cy="617.40" r="3" fill="#8a2b8a"/>
<circle cx="192.30" cy="609.60" r="2.3" fill="#fff" stroke="#8a2b8a" stroke-width="1.3"/>
<circle cx="198.00" cy="609.60" r="3" fill="#8a2b8a"/>
<circle cx="205.30" cy="618.80" r="3" fill="#8a2b8a"/>
<circle cx="212.80" cy="613.70" r="3" fill="#8a2b8a"/>
<circle cx="253.70" cy="609.60" r="3" fill="#8a2b8a"/>
<polyline points="66.50,654.20 73.80,654.20 88.00,654.00 95.20,654.00 101.60,652.00 114.90,649.90 122.00,649.70 129.50,648.50 136.40,648.50 143.30,648.50 150.40,648.50 164.40,650.20 178.20,650.50 185.40,650.60 192.30,651.40 198.00,650.00 203.80,650.60 212.80,652.60 255.80,651.40" fill="none" stroke="#2030e0" stroke-width="2.3" stroke-linejoin="round"/>
<circle cx="66.50" cy="654.20" r="2.9" fill="#2030e0"/>
<circle cx="73.80" cy="654.20" r="2.9" fill="#2030e0"/>
<circle cx="88.00" cy="654.00" r="2.9" fill="#2030e0"/>
<circle cx="95.20" cy="654.00" r="2.9" fill="#2030e0"/>
<circle cx="101.60" cy="652.00" r="2.9" fill="#2030e0"/>
<circle cx="114.90" cy="649.90" r="2.9" fill="#2030e0"/>
<circle cx="122.00" cy="649.70" r="2.9" fill="#2030e0"/>
<circle cx="129.50" cy="648.50" r="2.9" fill="#2030e0"/>
<circle cx="136.40" cy="648.50" r="2.9" fill="#2030e0"/>
<circle cx="143.30" cy="648.50" r="2.9" fill="#2030e0"/>
<circle cx="150.40" cy="648.50" r="2.9" fill="#2030e0"/>
<circle cx="164.40" cy="650.20" r="2.9" fill="#2030e0"/>
<circle cx="178.20" cy="650.50" r="2.9" fill="#2030e0"/>
<circle cx="185.40" cy="650.60" r="2.9" fill="#2030e0"/>
<circle cx="192.30" cy="651.40" r="2.3" fill="#fff" stroke="#2030e0" stroke-width="1.3"/>
<circle cx="198.00" cy="650.00" r="2.9" fill="#2030e0"/>
<circle cx="203.80" cy="650.60" r="2.9" fill="#2030e0"/>
<circle cx="212.80" cy="652.60" r="2.9" fill="#2030e0"/>
<circle cx="255.80" cy="651.40" r="2.9" fill="#2030e0"/>
<circle cx="254.80" cy="445.80" r="2.9" fill="#e6391a"/>
<circle cx="254.30" cy="649.10" r="2.4" fill="#fff" stroke="#d0503a" stroke-width="1"/>
<circle cx="257.20" cy="608.70" r="2.6" fill="#fff" stroke="#7a8a40" stroke-width="1"/>
<text x="118.50" y="484.30" font-size="11.6" text-anchor="start">Day 6 SRA</text>
<text x="118.50" y="496.30" font-size="11.6" text-anchor="start">seroconversion</text>
<line x1="116.30" y1="477.50" x2="104.30" y2="472.50" stroke="#111" stroke-width="1.6"/>
<polygon points="98.30,470.00 105.45,469.73 103.15,475.27" fill="#111"/>
<text x="118.50" y="548.40" font-size="11.6" text-anchor="start">Day 6 EIA-IgG</text>
<text x="118.50" y="560.00" font-size="11.6" text-anchor="start">seroconversion</text>
<line x1="113.80" y1="550.30" x2="103.99" y2="559.70" stroke="#111" stroke-width="1.6"/>
<polygon points="99.30,564.20 101.92,557.54 106.07,561.87" fill="#111"/>
<text x="118.50" y="593.60" font-size="11.6" text-anchor="start">Day 7 EIA-IgM</text>
<text x="118.50" y="604.80" font-size="11.6" text-anchor="start">seroconversion</text>
<line x1="115.00" y1="608.50" x2="106.77" y2="617.18" stroke="#111" stroke-width="1.6"/>
<polygon points="102.30,621.90 104.59,615.12 108.95,619.25" fill="#111"/>
<text x="148.00" y="634.80" font-size="11.85" text-anchor="start">OD cutoff &lt;0.45</text>
<rect x="54.20" y="417.60" width="104.40" height="23.20" rx="4" ry="4" fill="#fff" stroke="#111" stroke-width="2"/>
<text x="58.5" y="432.6" font-size="11.85">2<tspan font-size="7.5" dy="-4">nd</tspan><tspan dy="4"> Episode of HIT</tspan></text>
<rect x="54.2" y="704.2" width="197.6" height="24.2" fill="#fff" stroke="#111" stroke-width="2"/>
<text x="62.00" y="721.60" font-size="11.5" text-anchor="start">EIA-IgG</text>
<circle cx="110.40" cy="717.20" r="3" fill="#48912c"/>
<text x="122.40" y="721.60" font-size="11.5" text-anchor="start">EIA-IgA</text>
<circle cx="171.00" cy="717.20" r="3" fill="#2030e0"/>
<text x="186.50" y="721.60" font-size="11.5" text-anchor="start">EIA-IgM</text>
<circle cx="236.50" cy="717.20" r="3" fill="#8a2b8a"/>
<line x1="357.20" y1="445.60" x2="357.20" y2="661.40" stroke="#111" stroke-width="2"/>
<line x1="352.20" y1="660.40" x2="504.00" y2="660.40" stroke="#111" stroke-width="2"/>
<line x1="352.20" y1="660.40" x2="357.20" y2="660.40" stroke="#111" stroke-width="1.9"/>
<text x="350.20" y="664.60" font-size="11.85" text-anchor="end">0</text>
<line x1="352.20" y1="617.64" x2="357.20" y2="617.64" stroke="#111" stroke-width="1.9"/>
<text x="350.20" y="621.84" font-size="11.85" text-anchor="end">20</text>
<line x1="352.20" y1="574.88" x2="357.20" y2="574.88" stroke="#111" stroke-width="1.9"/>
<text x="350.20" y="579.08" font-size="11.85" text-anchor="end">40</text>
<line x1="352.20" y1="532.12" x2="357.20" y2="532.12" stroke="#111" stroke-width="1.9"/>
<text x="350.20" y="536.32" font-size="11.85" text-anchor="end">60</text>
<line x1="352.20" y1="489.36" x2="357.20" y2="489.36" stroke="#111" stroke-width="1.9"/>
<text x="350.20" y="493.56" font-size="11.85" text-anchor="end">80</text>
<line x1="352.20" y1="446.60" x2="357.20" y2="446.60" stroke="#111" stroke-width="1.9"/>
<text x="350.20" y="450.80" font-size="11.85" text-anchor="end">100</text>
<text transform="translate(311.5,421.3) scale(1.13,1)" font-size="15.6" font-weight="bold">D</text>
<text transform="translate(329,553) rotate(-90)" font-size="11.85" text-anchor="middle">Serotonin release, percent</text>
<line x1="363.40" y1="660.40" x2="363.40" y2="665.90" stroke="#111" stroke-width="1.8"/>
<line x1="408.20" y1="660.40" x2="408.20" y2="665.90" stroke="#111" stroke-width="1.8"/>
<line x1="431.20" y1="660.40" x2="431.20" y2="665.90" stroke="#111" stroke-width="1.8"/>
<line x1="458.40" y1="660.40" x2="458.40" y2="665.90" stroke="#111" stroke-width="1.8"/>
<line x1="485.70" y1="660.40" x2="485.70" y2="665.90" stroke="#111" stroke-width="1.8"/>
<line x1="385.60" y1="660.40" x2="385.60" y2="679.90" stroke="#111" stroke-width="1.8" stroke-dasharray="4.2,2.8"/>
<line x1="444.60" y1="660.40" x2="444.60" y2="679.90" stroke="#111" stroke-width="1.8" stroke-dasharray="4.2,2.8"/>
<line x1="472.00" y1="660.40" x2="472.00" y2="679.90" stroke="#111" stroke-width="1.8" stroke-dasharray="4.2,2.8"/>
<line x1="499.40" y1="660.40" x2="499.40" y2="679.90" stroke="#111" stroke-width="1.8" stroke-dasharray="4.2,2.8"/>
<text x="363.40" y="677.80" font-size="11.85" text-anchor="middle">0</text>
<text x="408.20" y="677.80" font-size="11.85" text-anchor="middle">100</text>
<text x="431.20" y="677.80" font-size="11.85" text-anchor="middle">0</text>
<text x="458.40" y="677.80" font-size="11.85" text-anchor="middle">0.4</text>
<text x="485.70" y="677.80" font-size="11.85" text-anchor="middle">1.2</text>
<text x="385.60" y="689.80" font-size="11.85" text-anchor="middle">0.3</text>
<text x="444.60" y="689.80" font-size="11.85" text-anchor="middle">0.1</text>
<text x="472.00" y="689.80" font-size="11.85" text-anchor="middle">0.8</text>
<text x="502.50" y="689.80" font-size="11.85" text-anchor="middle">100</text>
<text x="355.40" y="701.30" font-size="11.85" text-anchor="start">UFH (IU/mL)</text>
<text x="430.00" y="701.30" font-size="11.85" text-anchor="start">Fonda (µg/mL)</text>
<polyline points="363.30,456.30 387.20,443.30 408.40,589.00" fill="none" stroke="#111" stroke-width="2.5" stroke-linejoin="round"/>
<polyline points="362.50,482.50 387.20,447.00 408.40,655.00" fill="none" stroke="#111" stroke-width="2.6" stroke-linejoin="round" stroke-dasharray="8,5"/>
<polyline points="362.80,537.70 387.20,448.00 408.40,655.00" fill="none" stroke="#111" stroke-width="2.6" stroke-linejoin="round" stroke-dasharray="2,2"/>
<polyline points="361.80,615.50 387.20,446.50 408.40,653.50" fill="none" stroke="#111" stroke-width="1.4" stroke-linejoin="round"/>
<polyline points="363.40,647.80 387.20,450.00 408.40,656.00" fill="none" stroke="#111" stroke-width="1.4" stroke-linejoin="round" stroke-dasharray="4,2.5"/>
<polyline points="363.40,659.00 385.60,652.90 408.40,655.30" fill="none" stroke="#444" stroke-width="1.3" stroke-linejoin="round" stroke-dasharray="1.2,1"/>
<polyline points="426.10,457.20 442.30,468.30 452.40,472.30 464.50,462.20 476.60,473.30 486.70,473.30 499.40,519.80" fill="none" stroke="#111" stroke-width="2.2" stroke-linejoin="round"/>
<polyline points="430.10,483.00 442.50,483.50 455.40,483.00 464.50,479.80 477.60,483.00 486.70,479.40 490.10,526.00" fill="none" stroke="#111" stroke-width="2.5" stroke-linejoin="round" stroke-dasharray="8,5"/>
<polyline points="490.30,529.00 499.60,655.00" fill="none" stroke="#111" stroke-width="2.6" stroke-linejoin="round" stroke-dasharray="2.2,6"/>
<polyline points="430.80,538.30 442.30,535.30 453.40,541.60 486.70,524.80 498.60,648.00" fill="none" stroke="#111" stroke-width="2.5" stroke-linejoin="round" stroke-dasharray="2,2"/>
<polyline points="430.10,614.50 442.90,618.60 453.80,629.70 487.70,602.40 499.40,657.00" fill="none" stroke="#111" stroke-width="1.4" stroke-linejoin="round"/>
<polyline points="430.10,647.20 442.30,650.90 475.60,651.30 485.70,647.80 499.40,656.00" fill="none" stroke="#111" stroke-width="1.4" stroke-linejoin="round" stroke-dasharray="4,2.5"/>
<polyline points="430.10,658.00 499.40,658.00" fill="none" stroke="#555" stroke-width="1.8" stroke-linejoin="round" stroke-dasharray="1.1,0.9"/>
<rect x="394.50" y="418.80" width="104.20" height="32.50" rx="4.5" ry="4.5" fill="#fff" stroke="#111" stroke-width="2"/>
<text x="398" y="433" font-size="11.85">2<tspan font-size="7.5" dy="-4">nd</tspan><tspan dy="4"> Episode of HIT</tspan></text>
<text x="446.30" y="445.60" font-size="11.85" text-anchor="middle">(day 10)</text>
<rect x="313.3" y="708.4" width="204.8" height="20.2" fill="#fff" stroke="#111" stroke-width="2.4"/>
<text x="320.70" y="721.20" font-size="11.5" text-anchor="start">neat</text>
<text x="355.40" y="721.20" font-size="11.5" text-anchor="start">1/8</text>
<text x="384.00" y="721.20" font-size="11.5" text-anchor="start">1/16</text>
<text x="418.50" y="721.20" font-size="11.5" text-anchor="start">1/32</text>
<text x="451.90" y="721.20" font-size="11.5" text-anchor="start">1/64</text>
<text x="486.00" y="721.20" font-size="11.5" text-anchor="start">1/128</text>
<line x1="320.00" y1="724.70" x2="344.50" y2="724.70" stroke="#111" stroke-width="2.2"/>
<line x1="352.90" y1="724.70" x2="373.60" y2="724.70" stroke="#111" stroke-width="2.2" stroke-dasharray="7.5,5.7"/>
<line x1="384.00" y1="724.70" x2="405.00" y2="724.70" stroke="#111" stroke-width="2.2" stroke-dasharray="2,1.8"/>
<line x1="418.50" y1="724.70" x2="440.00" y2="724.70" stroke="#111" stroke-width="1"/>
<line x1="452.00" y1="724.70" x2="474.00" y2="724.70" stroke="#111" stroke-width="1" stroke-dasharray="4,2.5"/>
<line x1="486.00" y1="724.70" x2="514.00" y2="724.70" stroke="#666" stroke-width="1" stroke-dasharray="1,1"/>
</svg>
</body></html>
